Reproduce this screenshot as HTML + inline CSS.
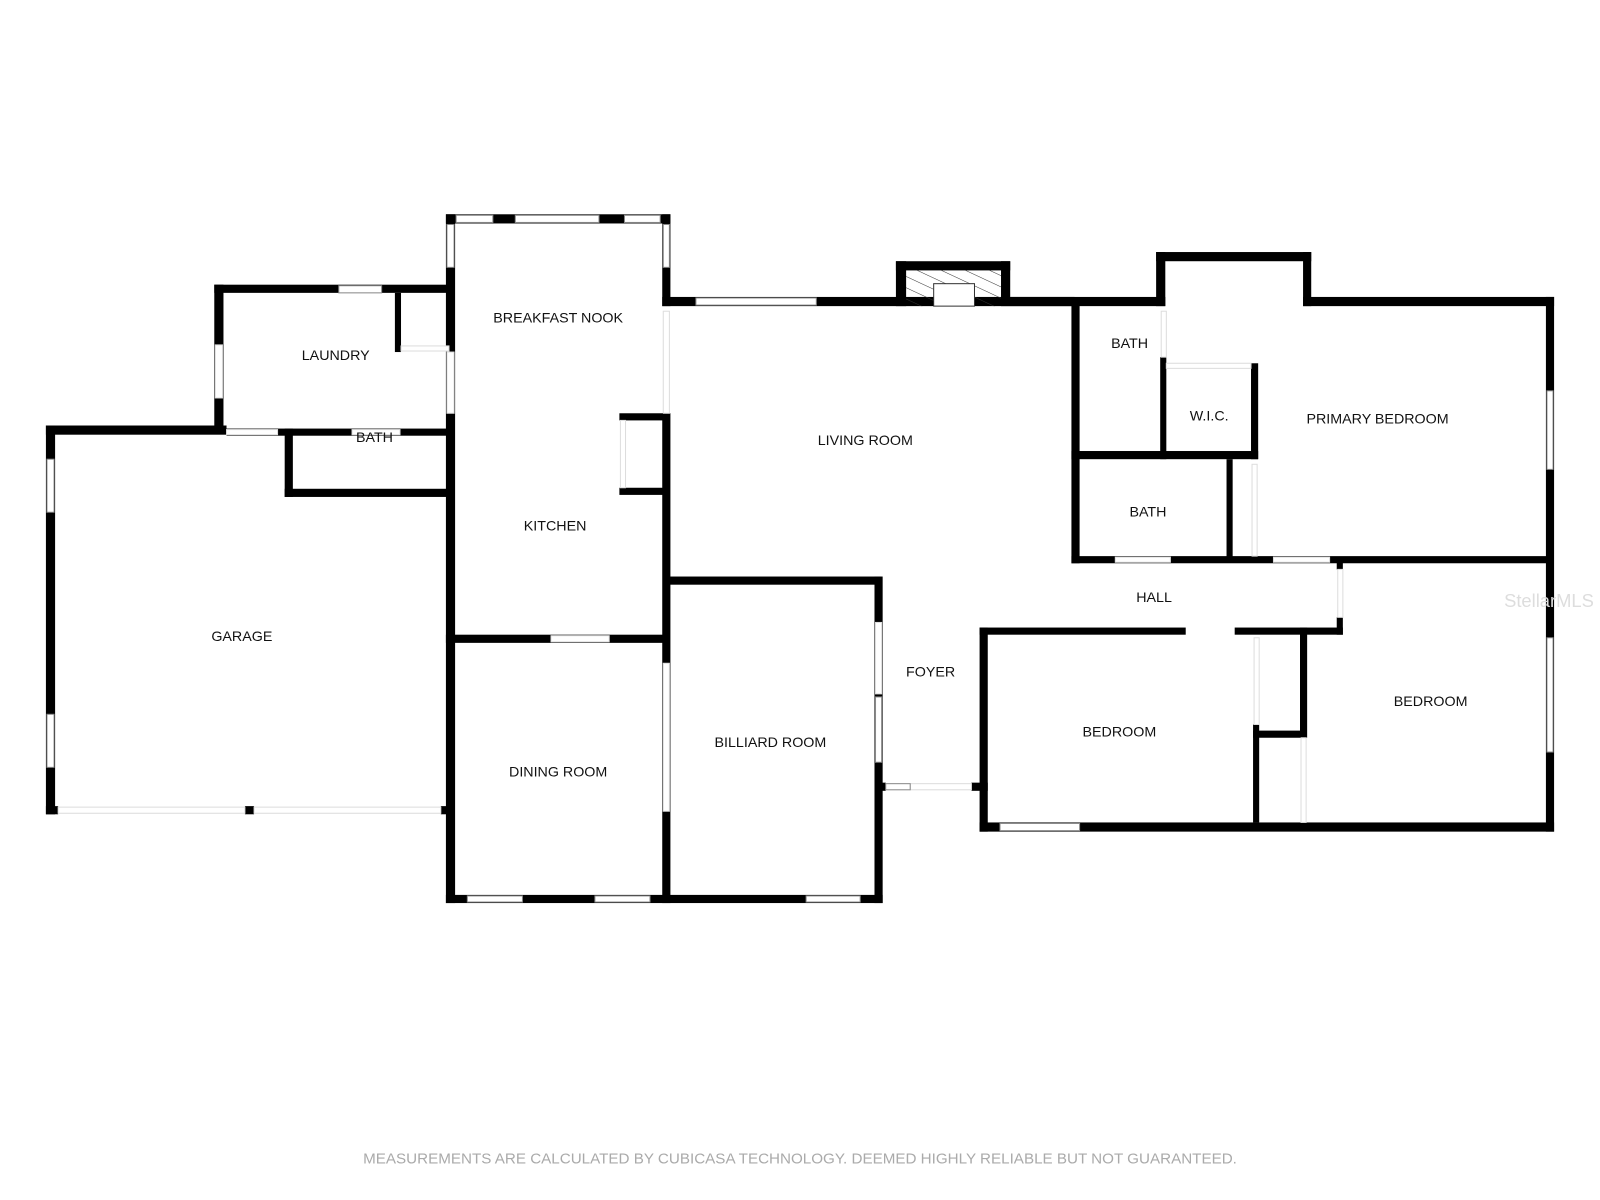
<!DOCTYPE html>
<html><head><meta charset="utf-8"><style>
html,body{margin:0;padding:0;background:#fff;width:1600px;height:1200px;overflow:hidden}
text{font-family:"Liberation Sans",Arial,sans-serif;font-size:14px;fill:#111;text-anchor:middle}
.w{fill:#000}
.win{fill:#fff;stroke:#888;stroke-width:1}
.op{fill:#fff;stroke:#ddd;stroke-width:1}
</style></head><body>
<svg width="1600" height="1200" viewBox="0 0 1568 1176" xmlns="http://www.w3.org/2000/svg">
<defs><pattern id="h" width="10" height="10" patternUnits="userSpaceOnUse" patternTransform="rotate(25)"><line x1="0" y1="0" x2="10" y2="0" stroke="#333" stroke-width="1"/></pattern></defs>
<g class="w">
<rect x="45" y="417" width="9" height="381"/>
<rect x="45" y="417" width="177" height="9"/>
<rect x="45" y="790" width="12" height="8"/>
<rect x="240" y="790" width="9" height="8"/>
<rect x="432" y="790" width="6" height="8"/>
<rect x="210" y="279" width="9" height="146"/>
<rect x="210" y="279" width="235" height="8"/>
<rect x="387" y="287" width="6" height="58"/>
<rect x="222" y="420" width="223" height="7"/>
<rect x="279" y="420" width="8" height="67"/>
<rect x="279" y="479" width="166" height="8"/>
<rect x="437" y="210" width="9" height="675"/>
<rect x="437" y="210" width="220" height="9"/>
<rect x="649" y="210" width="8" height="90"/>
<rect x="649" y="291" width="404" height="9"/>
<rect x="878" y="256" width="112" height="9"/>
<rect x="878" y="256" width="10" height="44"/>
<rect x="981" y="256" width="9" height="44"/>
<rect x="649" y="405" width="8" height="480"/>
<rect x="607" y="405" width="48" height="7"/>
<rect x="607" y="478" width="48" height="7"/>
<rect x="437" y="622" width="215" height="8"/>
<rect x="437" y="877" width="428" height="8"/>
<rect x="652" y="565" width="211" height="8"/>
<rect x="857" y="565" width="8" height="320"/>
<rect x="860" y="767" width="8" height="8"/>
<rect x="952" y="767" width="16" height="8"/>
<rect x="960" y="615" width="8" height="200"/>
<rect x="960" y="615" width="202" height="7"/>
<rect x="1210" y="615" width="106" height="7"/>
<rect x="960" y="806" width="563" height="9"/>
<rect x="1228" y="710" width="6" height="96"/>
<rect x="1228" y="716" width="52" height="7"/>
<rect x="1274" y="615" width="7" height="108"/>
<rect x="1310" y="548" width="6" height="10"/>
<rect x="1310" y="605" width="6" height="17"/>
<rect x="1515" y="291" width="8" height="524"/>
<rect x="1277" y="291" width="246" height="9"/>
<rect x="1277" y="247" width="8" height="53"/>
<rect x="1133" y="247" width="152" height="9"/>
<rect x="1133" y="247" width="9" height="53"/>
<rect x="990" y="291" width="152" height="9"/>
<rect x="1050" y="295" width="8" height="257"/>
<rect x="1137" y="350" width="6" height="100"/>
<rect x="1226" y="356" width="7" height="94"/>
<rect x="1050" y="442" width="183" height="8"/>
<rect x="1202" y="450" width="6" height="98"/>
<rect x="1050" y="545" width="470" height="7"/>
</g>
<rect class="op" x="57" y="791" width="183" height="6"/>
<rect class="op" x="249" y="791" width="183" height="6"/>
<rect class="op" x="211" y="338" width="7" height="52"/>
<rect class="op" x="222" y="421" width="50" height="5"/>
<rect class="op" x="345" y="421" width="47" height="5"/>
<rect class="op" x="393" y="339" width="47" height="5"/>
<rect class="op" x="438" y="345" width="7" height="60"/>
<rect class="op" x="650" y="305" width="6" height="100"/>
<rect class="op" x="540" y="623" width="57" height="6"/>
<rect class="op" x="650" y="650" width="6" height="145"/>
<rect class="op" x="858" y="610" width="6" height="70"/>
<rect class="op" x="892" y="768" width="60" height="6"/>
<rect class="op" x="1093" y="546" width="54" height="5"/>
<rect class="op" x="1248" y="546" width="55" height="5"/>
<rect class="op" x="1311" y="558" width="5" height="47"/>
<rect class="op" x="1138" y="305" width="5" height="45"/>
<rect class="op" x="1143" y="356" width="83" height="5"/>
<rect class="op" x="1227" y="455" width="5" height="90"/>
<rect class="op" x="1229" y="625" width="5" height="85"/>
<rect class="op" x="1275" y="723" width="5" height="83"/>
<rect class="op" x="608" y="412" width="5" height="66"/>
<rect class="win" x="447" y="211" width="36" height="7"/>
<rect class="win" x="505" y="211" width="82" height="7"/>
<rect class="win" x="612" y="211" width="35" height="7"/>
<rect class="win" x="438" y="220" width="7" height="42"/>
<rect class="win" x="650" y="220" width="6" height="42"/>
<rect class="win" x="682" y="292" width="118" height="7"/>
<rect class="win" x="332" y="280" width="42" height="7"/>
<rect class="win" x="46" y="450" width="7" height="52"/>
<rect class="win" x="46" y="700" width="7" height="52"/>
<rect class="win" x="458" y="878" width="54" height="6"/>
<rect class="win" x="583" y="878" width="54" height="6"/>
<rect class="win" x="790" y="878" width="53" height="6"/>
<rect class="win" x="858" y="683" width="6" height="64"/>
<rect class="win" x="868" y="768" width="24" height="6"/>
<rect class="win" x="980" y="807" width="78" height="7"/>
<rect class="win" x="1516" y="383" width="6" height="77"/>
<rect class="win" x="1516" y="625" width="6" height="112"/>
<rect x="888" y="265" width="93" height="35" fill="url(#h)"/>
<rect x="915" y="278" width="40" height="22" fill="#fff" stroke="#333" stroke-width="1"/>
<text x="547" y="316">BREAKFAST NOOK</text>
<text x="329" y="353">LAUNDRY</text>
<text x="367" y="433">BATH</text>
<text x="544" y="520">KITCHEN</text>
<text x="237" y="628">GARAGE</text>
<text x="547" y="761">DINING ROOM</text>
<text x="755" y="732">BILLIARD ROOM</text>
<text x="848" y="436">LIVING ROOM</text>
<text x="912" y="663">FOYER</text>
<text x="1107" y="341">BATH</text>
<text x="1185" y="412">W.I.C.</text>
<text x="1350" y="415">PRIMARY BEDROOM</text>
<text x="1125" y="506">BATH</text>
<text x="1131" y="590">HALL</text>
<text x="1097" y="722">BEDROOM</text>
<text x="1402" y="692">BEDROOM</text>
<text x="1518" y="595" style="fill:#ddd;font-size:18px">StellarMLS</text>
<text x="784" y="1140" style="fill:#aaa;font-size:14.9px">MEASUREMENTS ARE CALCULATED BY CUBICASA TECHNOLOGY. DEEMED HIGHLY RELIABLE BUT NOT GUARANTEED.</text>
</svg>
</body></html>
